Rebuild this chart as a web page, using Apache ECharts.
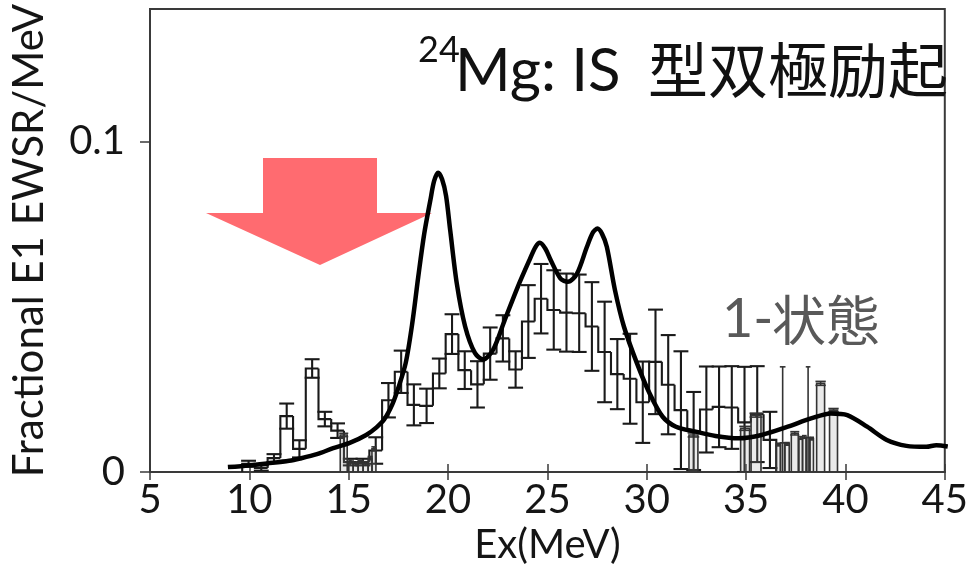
<!DOCTYPE html>
<html>
<head>
<meta charset="utf-8">
<script src="https://cdn.jsdelivr.net/npm/echarts/dist/echarts.min.js"></script>
<style>
  html, body { margin: 0; padding: 0; background: #fff; }
  #chart { width: 971px; height: 571px; }
</style>
</head>
<body>
<div id="chart"></div>
<script>
// Measured strength per 0.64 MeV bin (bin centres in MeV)
const expEnergy = [9.96, 10.60, 11.24, 11.88, 12.52, 13.16, 13.80, 14.44, 15.08, 15.72,
  16.36, 17.00, 17.64, 18.28, 18.92, 19.56, 20.20, 20.84, 21.48, 22.12,
  22.76, 23.40, 24.04, 24.68, 25.32, 25.96, 26.60, 27.24, 27.88, 28.52,
  29.16, 29.80, 30.44, 31.08, 31.72, 32.36, 33.00, 33.64, 34.28, 34.92,
  35.56, 36.20];
const expValue = [0.0025, 0.0012, 0.0042, 0.0169, 0.0070, 0.0313, 0.0160, 0.0125, 0.0030, 0.0030,
  0.0065, 0.0217, 0.0303, 0.0203, 0.0200, 0.0298, 0.0417, 0.0308, 0.0265, 0.0358,
  0.0404, 0.0310, 0.0455, 0.0524, 0.0490, 0.0482, 0.0480, 0.0440, 0.0363, 0.0296,
  0.0282, 0.0211, 0.0333, 0.0264, 0.0187, 0.0124, 0.0189, 0.0197, 0.0195, 0.0150,
  0.0175, 0.0097];
const expError = [0.0009, 0.0008, 0.0012, 0.0038, 0.0026, 0.0028, 0.0022, 0.0022, 0.0010, 0.0010,
  0.0040, 0.0052, 0.0064, 0.0062, 0.0052, 0.0045, 0.0060, 0.0057, 0.0070, 0.0079,
  0.0070, 0.0055, 0.0110, 0.0105, 0.0120, 0.0118, 0.0117, 0.0134, 0.0152, 0.0106,
  0.0136, 0.0123, 0.0158, 0.0150, 0.0178, 0.0118, 0.0130, 0.0122, 0.0125, 0.0168,
  0.0145, 0.0085];
const BIN_WIDTH = 0.64;

// Narrow-bin measurements (centre, width in MeV)
const fineEnergy = [14.75, 15.10, 15.35, 15.60, 15.85, 16.08, 16.27,
  32.35, 34.95, 35.50, 36.62, 36.84, 37.06, 37.45, 37.75, 37.93, 38.12, 38.30, 38.75, 39.40];
const fineWidth = [0.35, 0.25, 0.25, 0.25, 0.25, 0.20, 0.20,
  0.45, 0.45, 0.50, 0.22, 0.22, 0.22, 0.35, 0.18, 0.18, 0.18, 0.18, 0.40, 0.40];
const fineValue = [0.0112, 0.0032, 0.0025, 0.0030, 0.0026, 0.0042, 0.0070,
  0.0112, 0.0132, 0.0172, 0.0083, 0.0088, 0.0085, 0.0117, 0.0103, 0.0106, 0.0104, 0.0101, 0.0268, 0.0187];
const fineError = [0.0005, 0.0005, 0.0005, 0.0005, 0.0005, 0.0005, 0.0006,
  0.0006, 0.0006, 0.0006, 0.0004, 0.0230, 0.0004, 0.0005, 0.0004, 0.0004, 0.0214, 0.0004, 0.0006, 0.0005];

// Calculated IS dipole strength
const theoryEnergy = [8.92, 10.0, 10.9, 12.0, 12.56, 13.4, 14.22, 15.05, 15.88, 16.4,
  16.8, 17.2, 17.5, 17.87, 18.2, 18.5, 18.8, 19.11, 19.3, 19.5,
  19.7, 19.9, 20.11, 20.44, 20.86, 21.35, 21.77, 22.26, 22.85, 23.51,
  24.09, 24.4, 24.62, 24.9, 25.17, 25.66, 26.03, 26.49, 26.99, 27.3,
  27.52, 27.75, 27.99, 28.4, 28.85, 29.5, 30.14, 30.8, 31.47, 32.46,
  33.46, 34.62, 35.78, 37.1, 38.27, 39.26, 40.09, 41.09, 42.08, 43.07,
  44.07, 44.57, 45.15];
const theoryValue = [0.0015, 0.0020, 0.0026, 0.0034, 0.0041, 0.0054, 0.0072, 0.0088, 0.0112, 0.0135,
  0.0160, 0.0205, 0.0255, 0.0330, 0.0450, 0.0590, 0.0720, 0.0822, 0.0880, 0.0905,
  0.0885, 0.0835, 0.0730, 0.0570, 0.0440, 0.0360, 0.0340, 0.0369, 0.0459, 0.0560,
  0.0640, 0.0680, 0.0693, 0.0675, 0.0640, 0.0585, 0.0575, 0.0600, 0.0681, 0.0725,
  0.0736, 0.0720, 0.0681, 0.0550, 0.0440, 0.0330, 0.0238, 0.0167, 0.0137, 0.0122,
  0.0109, 0.0102, 0.0112, 0.0137, 0.0162, 0.0177, 0.0172, 0.0137, 0.0097, 0.0079,
  0.0076, 0.0081, 0.0077];

const xTicks = [5, 10, 15, 20, 25, 30, 35, 40, 45];
const yTicks = [0, 0.1];

const LATIN = 'Lato, "Noto Sans", sans-serif';
const JP = '"Noto Sans CJK JP", sans-serif';
const INK = '#151515';
const CAP_WIDTH = 0.75;

const histData = expEnergy.map((c, i) => [c, expValue[i], expError[i], i > 0 ? expValue[i - 1] : 0]);
const fineData = fineEnergy.map((c, i) => [c, fineValue[i], fineError[i], fineWidth[i]]);
const theoryData = theoryEnergy.map((e, i) => [e, theoryValue[i]]);

function errorBar(api, c, v, e, capW, style) {
  const top = api.coord([c, v + e]);
  const bot = api.coord([c, Math.max(0, v - e)]);
  const half = (api.coord([c + capW / 2, 0])[0] - api.coord([c, 0])[0]);
  return [
    { type: 'line', shape: { x1: top[0], y1: top[1], x2: bot[0], y2: bot[1] }, style },
    { type: 'line', shape: { x1: top[0] - half, y1: top[1], x2: top[0] + half, y2: top[1] }, style },
    { type: 'line', shape: { x1: bot[0] - half, y1: bot[1], x2: bot[0] + half, y2: bot[1] }, style }
  ];
}

function renderHist(params, api) {
  const c = api.value(0), v = api.value(1), e = api.value(2), prev = api.value(3);
  const lo = c - BIN_WIDTH / 2, hi = c + BIN_WIDTH / 2;
  const style = { stroke: '#1a1a1a', lineWidth: 2.1, fill: null };
  const pts = [api.coord([lo, prev]), api.coord([lo, v]), api.coord([hi, v])];
  if (params.dataIndex === histData.length - 1) pts.push(api.coord([hi, 0]));
  return {
    type: 'group',
    children: [{ type: 'polyline', shape: { points: pts }, style }]
      .concat(errorBar(api, c, v, e, CAP_WIDTH, style))
  };
}

function renderFine(params, api) {
  const c = api.value(0), v = api.value(1), e = api.value(2), w = api.value(3);
  const p0 = api.coord([c - w / 2, v]);
  const p1 = api.coord([c + w / 2, 0]);
  const style = { stroke: '#333', lineWidth: 1.6, fill: null };
  return {
    type: 'group',
    children: [{
      type: 'rect',
      shape: { x: p0[0], y: p0[1], width: p1[0] - p0[0], height: p1[1] - p0[1] },
      style: { stroke: '#333', lineWidth: 1.6, fill: 'rgba(160,160,160,0.22)' }
    }].concat(errorBar(api, c, v, e, w * 1.3, style))
  };
}

const chart = echarts.init(document.getElementById('chart'), null, { renderer: 'canvas' });

chart.setOption({
  animation: false,
  backgroundColor: '#fff',
  grid: {
    left: 148, right: 20, top: 9, bottom: 99,
    show: true, borderColor: '#3a3a3a', borderWidth: 2, backgroundColor: 'transparent'
  },
  xAxis: [{
    type: 'value', min: 5, max: 45, interval: 5, position: 'bottom',
    name: 'Ex(MeV)', nameLocation: 'middle', nameGap: 52,
    nameTextStyle: { fontFamily: LATIN, fontSize: 40, color: INK },
    axisLine: { show: true, onZero: false, lineStyle: { color: '#3a3a3a', width: 2 } },
    axisTick: { show: true, length: 8, lineStyle: { color: '#3a3a3a', width: 1.5 }, customValues: xTicks },
    axisLabel: { fontFamily: LATIN, fontSize: 40, color: INK, margin: 8, customValues: xTicks },
    splitLine: { show: false }
  }, {
    type: 'value', min: 5, max: 45, interval: 5, position: 'bottom',
    axisLine: { show: false },
    axisTick: { show: true, inside: true, length: 8, lineStyle: { color: '#3a3a3a', width: 1.5 }, customValues: xTicks },
    axisLabel: { show: false },
    splitLine: { show: false }
  }],
  yAxis: {
    type: 'value', min: 0, max: 0.14,
    name: 'Fractional E1 EWSR/MeV', nameLocation: 'middle', nameGap: 100, nameRotate: 90,
    nameTextStyle: { fontFamily: LATIN, fontSize: 42, color: INK },
    axisLine: { show: true, lineStyle: { color: '#3a3a3a', width: 2 } },
    axisTick: { show: true, length: 10, lineStyle: { color: '#3a3a3a', width: 1.5 }, customValues: yTicks },
    axisLabel: {
      fontFamily: LATIN, fontSize: 40, color: INK, margin: 25, customValues: yTicks,
      formatter: v => (v === 0 ? '0' : String(v))
    },
    splitLine: { show: false }
  },
  graphic: [
    {
      type: 'polygon', z: 0,
      shape: { points: [[263, 158], [377, 158], [377, 213], [432, 213], [320, 265], [206, 213], [263, 213]] },
      style: { fill: '#ff6b70' }
    },
    { type: 'text', z: 10, style: { x: 418, y: 50, text: '24', font: '36px ' + LATIN, fill: '#111', align: 'left', verticalAlign: 'middle' } },
    { type: 'text', z: 10, style: { x: 455, y: 72, text: 'Mg: IS', font: '60px ' + LATIN, fill: '#111', align: 'left', verticalAlign: 'middle' } },
    { type: 'text', z: 10, style: { x: 948, y: 70, text: '型双極励起', font: '60px ' + JP, fill: '#111', align: 'right', verticalAlign: 'middle' } },
    { type: 'text', z: 10, style: { x: 722, y: 320, text: '1-', font: '54px ' + LATIN, fill: '#595959', align: 'left', verticalAlign: 'middle' } },
    { type: 'text', z: 10, style: { x: 880, y: 320, text: '状態', font: '54px ' + JP, fill: '#595959', align: 'right', verticalAlign: 'middle' } }
  ],
  series: [
    {
      type: 'custom', name: 'exp', xAxisIndex: 0, z: 3, clip: true,
      renderItem: renderHist, data: histData, encode: { x: 0, y: 1 }
    },
    {
      type: 'custom', name: 'fine', xAxisIndex: 0, z: 3, clip: true,
      renderItem: renderFine, data: fineData, encode: { x: 0, y: 1 }
    },
    {
      type: 'line', name: 'theory', xAxisIndex: 0, z: 5, clip: false,
      data: theoryData, smooth: 0.3, showSymbol: false, symbol: 'none',
      lineStyle: { color: '#000', width: 4.5 }
    }
  ]
});
</script>
</body>
</html>
